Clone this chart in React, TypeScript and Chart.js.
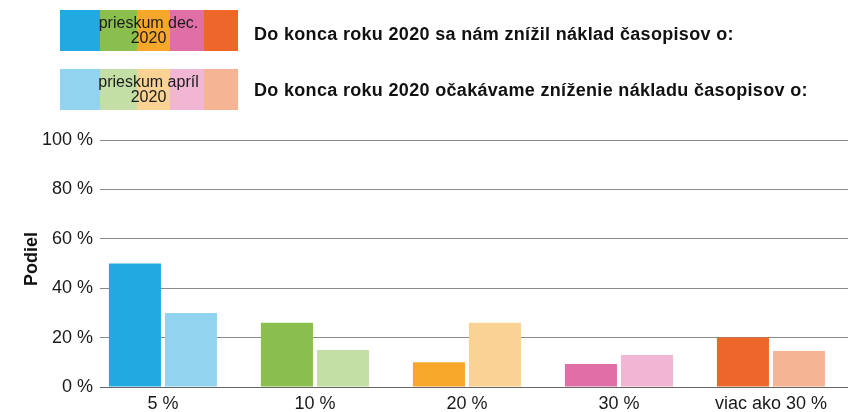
import React, { useEffect, useRef } from "react";
import { Chart, registerables } from "chart.js";

Chart.register(...registerables);

const categories = ["5 %", "10 %", "20 %", "30 %", "viac ako 30 %"];
const decValues = [50, 26, 10, 9.3, 20];
const aprValues = [30, 15, 26, 13, 14.6];
const decColors = ["#21A9E1", "#8BBF4D", "#F7A82A", "#E16FA7", "#EC6729"];
const aprColors = ["#92D4EF", "#C4DFA6", "#FAD394", "#F1B6D4", "#F5B494"];
const yTickValues = [0, 20, 40, 60, 80, 100];
const legendBadges = ["prieskum dec.", "prieskum apríl"];
const legendYear = "2020";
const legendTexts = [
  "Do konca roku 2020 sa nám znížil náklad časopisov o:",
  "Do konca roku 2020 očakávame zníženie nákladu časopisov o:",
];
const yTitle = "Podiel";

const FONT = "'Liberation Sans', Arial, Helvetica, sans-serif";
const stripWidths = [40, 37, 33, 34, 34];

function Strip({ colors, top, badge }: { colors: string[]; top: number; badge: string }) {
  return (
    <div style={{ position: "absolute", left: 60, top, height: 41, display: "flex" }}>
      {colors.map((c, i) => (
        <div key={i} style={{ width: stripWidths[i], height: 41, background: c }} />
      ))}
      <div
        style={{
          position: "absolute",
          left: 38,
          width: 101,
          top: 5,
          textAlign: "center",
          fontSize: 16,
          lineHeight: "15px",
          color: "#1a1a1a",
          fontFamily: FONT,
          whiteSpace: "nowrap",
        }}
      >
        {badge}
        <br />
        {legendYear}
      </div>
    </div>
  );
}

export default function App() {
  const ref = useRef<HTMLCanvasElement>(null);
  useEffect(() => {
    if (!ref.current) return;
    const chart = new Chart(ref.current, {
      type: "bar",
      data: {
        datasets: [
          {
            label: legendBadges[0],
            data: decValues.map((v, i) => ({ x: i, y: v })),
            backgroundColor: decColors,
            categoryPercentage: 0.737,
            barPercentage: 0.929,
          },
          {
            label: legendBadges[1],
            data: aprValues.map((v, i) => ({ x: i, y: v })),
            backgroundColor: aprColors,
            categoryPercentage: 0.737,
            barPercentage: 0.929,
          },
        ],
      },
      options: {
        animation: false,
        responsive: false,
        layout: { padding: { top: 140, left: 0, right: 0, bottom: 0 } },
        plugins: { legend: { display: false }, tooltip: { enabled: false } },
        scales: {
          x: {
            type: "linear",
            offset: false,
            min: -0.414,
            max: 4.507,
            afterBuildTicks: (axis: any) => {
              axis.ticks = categories.map((_, i) => ({ value: i }));
            },
            afterFit: (axis: any) => {
              axis.height = 25;
            },
            grid: { display: false, drawTicks: false, offset: false },
            border: { display: true, color: "#666", width: 1 },
            ticks: {
              autoSkip: false,
              maxRotation: 0,
              padding: 6,
              color: "#1a1a1a",
              font: { family: FONT, size: 18 },
              callback: (v: any) => categories[Math.round(Number(v))] ?? "",
            },
          },
          y: {
            min: 0,
            max: 100,
            afterBuildTicks: (axis: any) => {
              axis.ticks = yTickValues.map((v) => ({ value: v }));
            },
            afterFit: (axis: any) => {
              axis.width = 100;
            },
            grid: { color: "#8a8a8a", lineWidth: 1, drawTicks: false },
            border: { display: false },
            ticks: {
              padding: 7,
              color: "#1a1a1a",
              font: { family: FONT, size: 18 },
              callback: (v: any) => `${v} %`,
            },
          },
        },
      } as any,
    });
    return () => chart.destroy();
  }, []);

  return (
    <div style={{ position: "absolute", left: 0, top: 0, width: 848, height: 412, background: "#fff" }}>
      <canvas ref={ref} width={848} height={412} style={{ position: "absolute", left: 0, top: 0 }} />
      <Strip colors={decColors} top={10} badge={legendBadges[0]} />
      <Strip colors={aprColors} top={69} badge={legendBadges[1]} />
      {legendTexts.map((t, i) => (
        <div
          key={i}
          style={{
            position: "absolute",
            left: 254,
            top: i === 0 ? 24 : 80,
            fontSize: 18,
            lineHeight: "20px",
            fontWeight: "bold",
            letterSpacing: "0.32px",
            color: "#111",
            fontFamily: FONT,
            whiteSpace: "nowrap",
          }}
        >
          {t}
        </div>
      ))}
      <div
        style={{
          position: "absolute",
          left: 30.5,
          top: 258.5,
          transform: "translate(-50%, -50%) rotate(-90deg)",
          fontSize: 18,
          fontWeight: "bold",
          color: "#111",
          fontFamily: FONT,
          whiteSpace: "nowrap",
          lineHeight: "20px",
        }}
      >
        {yTitle}
      </div>
    </div>
  );
}
